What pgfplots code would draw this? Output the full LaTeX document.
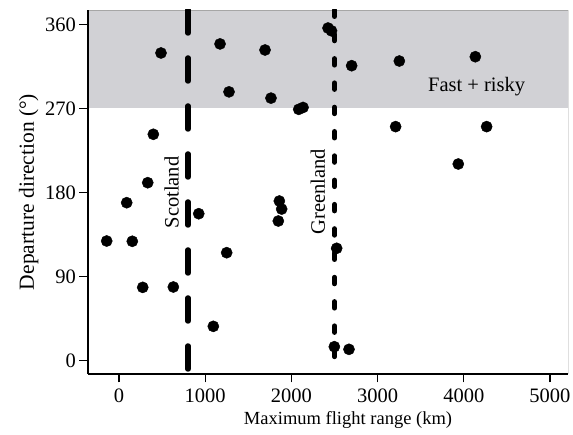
\documentclass[border=0pt]{standalone}
\usepackage{pgfplots}
\pgfplotsset{compat=1.18}
\usepackage{fontspec}
\setmainfont{Liberation Serif}

\definecolor{shadegray}{RGB}{209,209,213}

\begin{document}
\begin{tikzpicture}
\begin{axis}[
  scale only axis,
  width=480pt, height=364pt,
  xmin=-360, xmax=5209,
  ymin=-14.2, ymax=375.3,
  axis x line*=bottom,
  axis y line*=left,
  axis line style={line width=1.4pt, black},
  axis on top,
  xtick={0,1000,2000,3000,4000,5000},
  ytick={0,90,180,270,360},
  tick align=outside,
  major tick length=8.5pt,
  tick style={line width=1.2pt, black},
  /pgf/number format/assume math mode=true,
  /pgf/number format/1000 sep={},
  ticklabel style={font=\fontsize{20.5}{24}\selectfont},
  xticklabel style={yshift=-3pt},
  xlabel={Maximum flight range (km)},
  ylabel={Departure direction (\textdegree)},
  xlabel style={font=\fontsize{18.5}{22}\selectfont, at={(ticklabel cs:0.5417)}, yshift=-2pt},
  ylabel style={font=\fontsize{21.5}{25}\selectfont},
  clip=true,
]

% right frame edge, hidden under the shaded band at the top
\draw[line width=1pt, black] (axis cs:5209,-14.2) -- (axis cs:5209,375.3);

% shaded band: directions above 270 degrees
\addplot[fill=shadegray, draw=none]
  coordinates {(-360,270) (5209,270) (5209,375.3) (-360,375.3)} -- cycle;
\draw[gray!70, line width=0.7pt] (axis cs:-360,375.3) -- (axis cs:5209,375.3);

% Scotland distance
\addplot[black, line width=5.5pt, line cap=round, dash pattern=on 23pt off 25pt]
  coordinates {(800,375.3) (800,-14.2)};
% Greenland distance
\addplot[black, line width=5pt, line cap=round, dash pattern=on 6.5pt off 17.8pt]
  coordinates {(2500,375.3) (2500,-14.2)};

\node[rotate=90, font=\fontsize{20.5}{24}\selectfont] at (axis cs:609,180) {Scotland};
\node[rotate=90, font=\fontsize{20.5}{24}\selectfont] at (axis cs:2306,181) {Greenland};
\node[font=\fontsize{20.5}{24}\selectfont] at (axis cs:4149,293) {Fast + risky};

% individual birds
\addplot[only marks, mark=*, mark size=5.6pt, black, mark options={fill=black, draw=black}]
  coordinates {
    (487,329.3) (1172,339) (1276,287.7) (1694,332.5) (1763,281)
    (2425,356) (2465,353) (2699,315.7) (3252,320.7) (4134,325.3)
    (2085,269) (2135,271) (3209,250.5) (4265,250.5) (3936,210.5)
    (398,242.3) (333,190.5) (89,169.1) (925,157.3)
    (1860,170.9) (1887,162.3) (1848,149.5)
    (-143,128.1) (154,127.8) (1249,115.6) (275,78.5) (630,78.9)
    (1094,36.8) (2525,120.3) (2498,15) (2668,12.2)
  };
\end{axis}
\pgfresetboundingbox
\path ([shift={(-88pt,-61pt)}]current axis.south west)
  rectangle ([shift={(5pt,10pt)}]current axis.north east);
\end{tikzpicture}
\end{document}
